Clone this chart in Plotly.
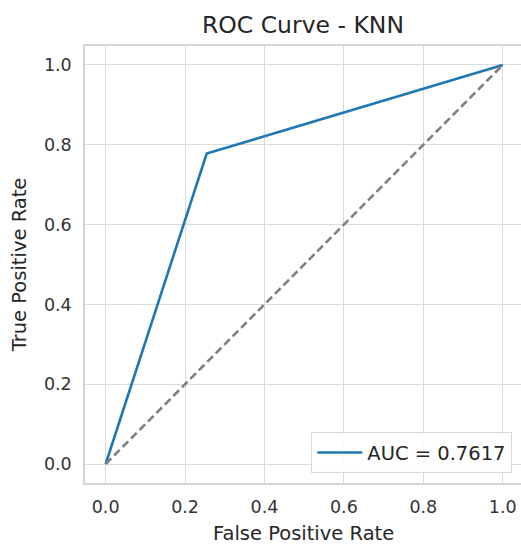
import plotly.graph_objects as go

fpr = [0.0, 0.2545, 1.0]
tpr = [0.0, 0.7779, 1.0]
diag = [0.0, 1.0]
auc_label = "AUC = 0.7617"
tick_vals = [0.0, 0.2, 0.4, 0.6, 0.8, 1.0]
tick_text = ["0.0", "0.2", "0.4", "0.6", "0.8", "1.0"]
x_title = "False Positive Rate"
y_title = "True Positive Rate"

W, H = 521, 545
L, T, B = 85, 46, 62

fig = go.Figure()
fig.add_trace(go.Scatter(x=fpr, y=tpr, mode="lines", name=auc_label,
                         line=dict(color="#1f77b4", width=2.6)))
fig.add_trace(go.Scatter(x=diag, y=diag, mode="lines", showlegend=False,
                         line=dict(color="#808080", width=2.6, dash="8px,4px")))

axis_common = dict(
    tickvals=tick_vals, ticktext=tick_text,
    showgrid=True, gridcolor="#dadada", gridwidth=1.3,
    zeroline=False, showline=True, linecolor="#d5d5d5", linewidth=1.5,
    mirror=True, ticks="", tickfont=dict(size=17.5, color="#333333"),
    title_font=dict(size=19.5, color="#262626"),
)
fig.update_xaxes(range=[-0.052, 1.046], ticklabelstandoff=7, **axis_common)
fig.update_yaxes(range=[-0.0476, 1.0476], title_text=y_title,
                 title_standoff=12, ticklabelstandoff=8, **axis_common)

plot_w = W - L
plot_h = H - T - B
fig.add_annotation(text=x_title, xref="paper", yref="paper",
                   x=(303.5 - L) / plot_w, y=-(533 - (H - B)) / plot_h,
                   xanchor="center", yanchor="middle", showarrow=False,
                   font=dict(size=19.5, color="#262626"))

fig.update_layout(
    width=W, height=H,
    margin=dict(l=L, r=0, t=T, b=B, autoexpand=False),
    paper_bgcolor="white", plot_bgcolor="white",
    font=dict(family="DejaVu Sans", color="#262626"),
    title=dict(text="ROC Curve - KNN", x=(L + W) / 2 / W, xanchor="center",
               y=1 - 25 / H, yanchor="middle",
               font=dict(size=23.5, color="#262626")),
    legend=dict(x=(512 - L) / plot_w, y=(H - B - 473) / plot_h,
                xanchor="right", yanchor="bottom",
                bgcolor="rgba(255,255,255,0.85)", bordercolor="#d8d8d8",
                borderwidth=1.3, font=dict(size=19.5, color="#262626"),
                itemwidth=45),
    showlegend=True,
)

fig.write_html("out.html",
               config={"displayModeBar": False},
               post_script="document.body.style.margin='0';"
                           "document.body.style.overflow='hidden';")
